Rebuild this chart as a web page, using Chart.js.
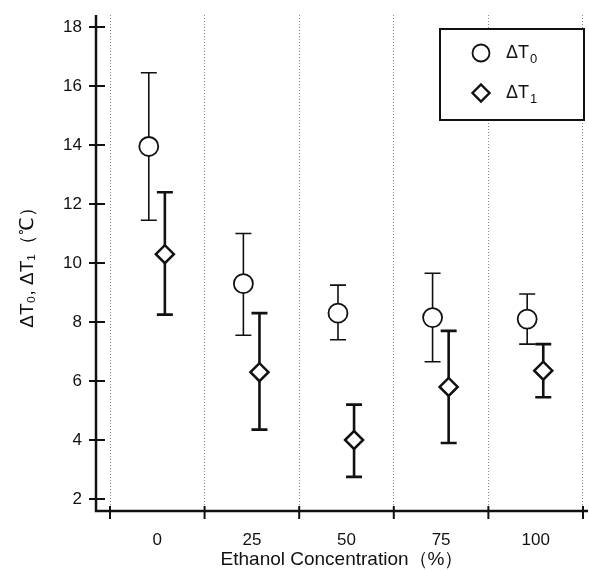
<!DOCTYPE html>
<html>
<head>
<meta charset="utf-8">
<script src="https://cdn.jsdelivr.net/npm/chart.js@4.4.0/dist/chart.umd.min.js"></script>
<style>
  html, body { margin: 0; padding: 0; background: #fff; }
  #contenedor { width: 589px; height: 571px; position: relative; }
</style>
</head>
<body>
<div id="contenedor"><canvas id="grafico"></canvas></div>
<script>
// Datos
const categorias = ['0', '25', '50', '75', '100'];
const nombresSeries = ['ΔT₀', 'ΔT₁'];
const subindices = ['0', '1'];

const dT0 = [13.95, 9.3, 8.3, 8.15, 8.1];
const dT0Bajo = [11.45, 7.55, 7.4, 6.65, 7.25];
const dT0Alto = [16.45, 11.0, 9.25, 9.65, 8.95];

const dT1 = [10.3, 6.3, 4.0, 5.8, 6.35];
const dT1Bajo = [8.25, 4.35, 2.75, 3.9, 5.45];
const dT1Alto = [12.4, 8.3, 5.2, 7.7, 7.25];

const ticksY = [2, 4, 6, 8, 10, 12, 14, 16, 18];

// Desplazamiento de cada serie dentro de su categoría
const desplazamiento = [-0.09, 0.08];

const FUENTE = "'Liberation Sans', Arial, sans-serif";
const NEGRO = '#111';

Chart.defaults.font.family = FUENTE;
Chart.defaults.color = NEGRO;

function puntos(valores, d) {
  return valores.map((v, i) => ({ x: i + d, y: v }));
}

// Quita el relleno automático que Chart.js deja para las etiquetas
function sinRelleno(s) {
  s.paddingTop = 0;
  s.paddingBottom = 0;
  s.paddingLeft = 0;
  s.paddingRight = 0;
}

// Barras de error (debajo de los puntos)
const barrasError = {
  id: 'barrasError',
  beforeDatasetsDraw(chart) {
    const { ctx, scales: { x, y } } = chart;
    const series = [
      { bajo: dT0Bajo, alto: dT0Alto, d: desplazamiento[0], ancho: 1.6 },
      { bajo: dT1Bajo, alto: dT1Alto, d: desplazamiento[1], ancho: 2.6 }
    ];
    ctx.save();
    ctx.strokeStyle = NEGRO;
    series.forEach(s => {
      ctx.lineWidth = s.ancho;
      s.bajo.forEach((b, i) => {
        const px = x.getPixelForValue(i + s.d);
        const y1 = y.getPixelForValue(b);
        const y2 = y.getPixelForValue(s.alto[i]);
        ctx.beginPath();
        ctx.moveTo(px, y1); ctx.lineTo(px, y2);
        ctx.moveTo(px - 8, y1); ctx.lineTo(px + 8, y1);
        ctx.moveTo(px - 8, y2); ctx.lineTo(px + 8, y2);
        ctx.stroke();
      });
    });
    ctx.restore();
  }
};

// Ejes con marcas que cruzan la línea
const ejes = {
  id: 'ejes',
  afterDatasetsDraw(chart) {
    const { ctx, chartArea: a, scales: { x, y } } = chart;
    ctx.save();
    ctx.strokeStyle = NEGRO;
    ctx.lineWidth = 2.5;
    ctx.beginPath();
    ctx.moveTo(a.left, a.top); ctx.lineTo(a.left, a.bottom);
    ctx.lineTo(a.right, a.bottom);
    ctx.stroke();
    ctx.lineWidth = 2;
    ctx.beginPath();
    ticksY.forEach(v => {
      const py = y.getPixelForValue(v);
      ctx.moveTo(a.left - 7, py); ctx.lineTo(a.left + 9, py);
    });
    for (let i = 0; i <= categorias.length; i++) {
      const px = x.getPixelForValue(i - 0.5);
      ctx.moveTo(px, a.bottom - 5); ctx.lineTo(px, a.bottom + 8);
    }
    ctx.stroke();
    ctx.restore();
  }
};

// Leyenda con recuadro
const leyenda = {
  id: 'leyenda',
  afterDraw(chart) {
    const { ctx, chartArea: a } = chart;
    const ancho = 144, alto = 91;
    const izq = a.right - 4 - ancho, arriba = a.top + 14;
    ctx.save();
    ctx.fillStyle = '#fff';
    ctx.fillRect(izq, arriba, ancho, alto);
    ctx.strokeStyle = NEGRO;
    ctx.lineWidth = 2;
    ctx.strokeRect(izq, arriba, ancho, alto);
    const filas = [arriba + 24, arriba + 64];
    const mx = izq + 41;
    // círculo
    ctx.lineWidth = 1.8;
    ctx.beginPath();
    ctx.arc(mx, filas[0], 8.5, 0, Math.PI * 2);
    ctx.stroke();
    // rombo
    ctx.lineWidth = 2.4;
    ctx.beginPath();
    ctx.moveTo(mx, filas[1] - 8.5);
    ctx.lineTo(mx + 8.5, filas[1]);
    ctx.lineTo(mx, filas[1] + 8.5);
    ctx.lineTo(mx - 8.5, filas[1]);
    ctx.closePath();
    ctx.stroke();
    ctx.fillStyle = NEGRO;
    ctx.textBaseline = 'middle';
    filas.forEach((fy, i) => {
      ctx.font = '18px ' + FUENTE;
      const base = 'ΔT';
      ctx.fillText(base, izq + 66, fy);
      const w = ctx.measureText(base).width;
      ctx.font = '13px ' + FUENTE;
      ctx.fillText(subindices[i], izq + 67 + w, fy + 6);
    });
    ctx.restore();
  }
};

const ticksX = [];
for (let i = 0; i <= categorias.length; i++) {
  ticksX.push(i - 0.5);
  if (i < categorias.length) ticksX.push(i);
}

new Chart(document.getElementById('grafico'), {
  type: 'scatter',
  data: {
    datasets: [
      {
        label: nombresSeries[0],
        data: puntos(dT0, desplazamiento[0]),
        pointStyle: 'circle',
        pointRadius: 9.5,
        pointBorderWidth: 1.8,
        borderColor: NEGRO,
        backgroundColor: '#fff'
      },
      {
        label: nombresSeries[1],
        data: puntos(dT1, desplazamiento[1]),
        pointStyle: 'rectRot',
        pointRadius: 9,
        pointBorderWidth: 2.5,
        borderColor: NEGRO,
        backgroundColor: '#fff'
      }
    ]
  },
  options: {
    responsive: true,
    maintainAspectRatio: false,
    animation: false,
    layout: { autoPadding: false, padding: { top: 15, right: 1, left: 0, bottom: 0 } },
    plugins: {
      legend: { display: false },
      tooltip: { enabled: false }
    },
    scales: {
      x: {
        type: 'linear',
        min: -0.648,
        max: 4.553,
        afterBuildTicks: s => { s.ticks = ticksX.map(v => ({ value: v })); },
        afterFit: s => { s.height = 60; sinRelleno(s); },
        ticks: {
          autoSkip: false,
          maxRotation: 0,
          padding: 19,
          font: { size: 17 },
          callback: v => Number.isInteger(v) ? categorias[v] : ''
        },
        grid: {
          drawTicks: false,
          lineWidth: 1,
          color: c => (c.tick && Number.isInteger(c.tick.value)) ? 'rgba(0,0,0,0)' : '#888'
        },
        border: { display: false, dash: [1, 2] },
        title: {
          display: true,
          text: 'Ethanol Concentration（%）',
          font: { size: 19 },
          padding: { top: 0, bottom: 0 }
        }
      },
      y: {
        min: 1.593,
        max: 18.407,
        afterBuildTicks: s => { s.ticks = ticksY.map(v => ({ value: v })); },
        afterFit: s => { s.width = 96; sinRelleno(s); },
        ticks: { padding: 14, font: { size: 17 } },
        grid: { display: false, drawTicks: false },
        border: { display: false },
        title: {
          display: true,
          text: 'ΔT₀, ΔT₁（℃）',
          font: { size: 19 },
          padding: { top: 16, bottom: 0 }
        }
      }
    }
  },
  plugins: [barrasError, ejes, leyenda]
});
</script>
</body>
</html>
